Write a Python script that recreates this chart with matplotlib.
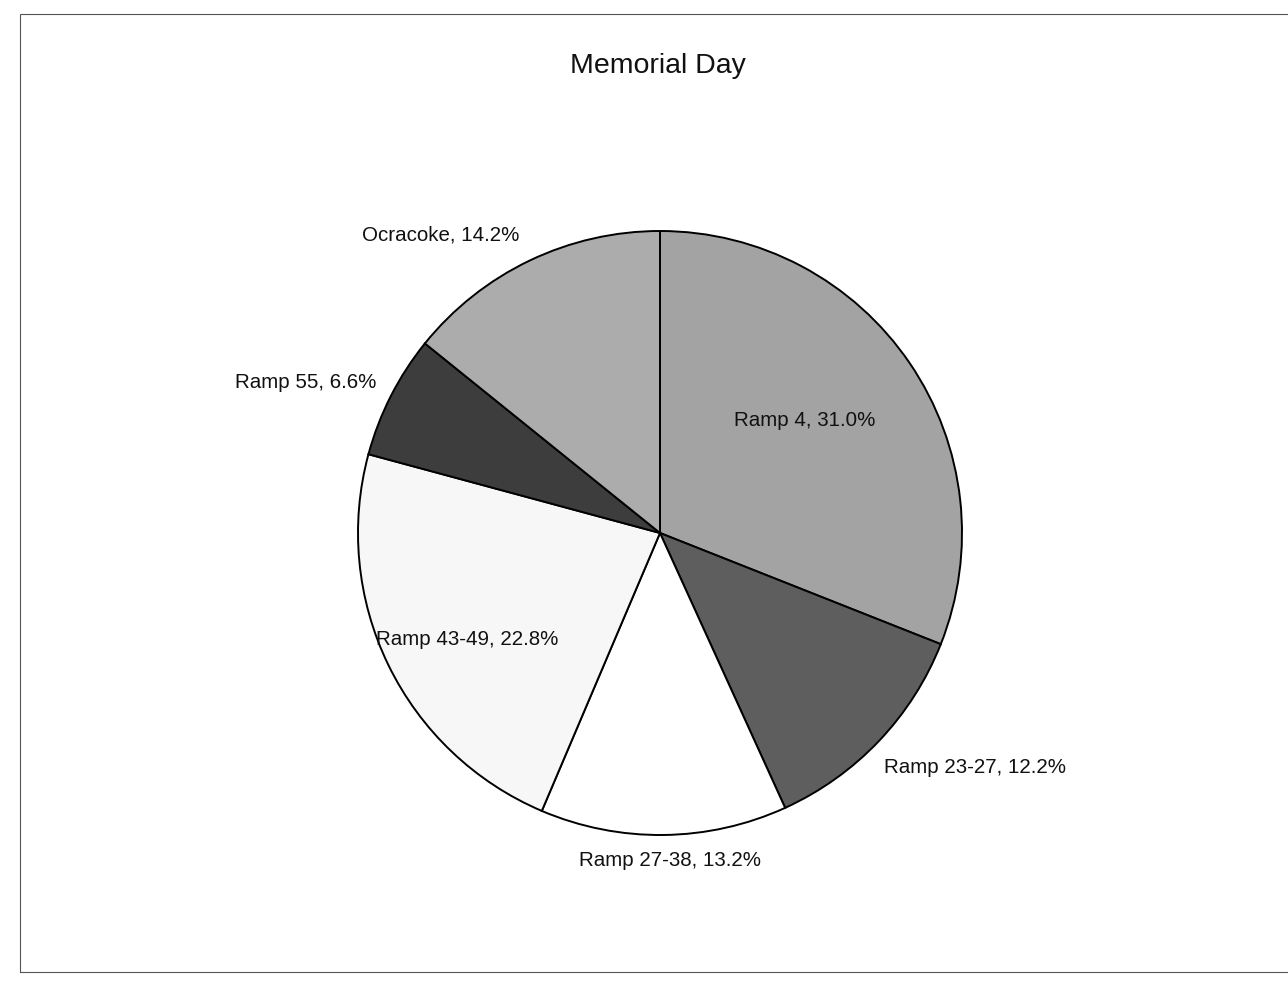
import matplotlib.pyplot as plt
from matplotlib.patches import Rectangle

plt.rcParams['font.family'] = ['Liberation Sans', 'DejaVu Sans']

labels = ['Ramp 4', 'Ramp 23-27', 'Ramp 27-38', 'Ramp 43-49', 'Ramp 55', 'Ocracoke']
shares = [31.0, 12.2, 13.2, 22.8, 6.6, 14.2]
colors = ['#a3a3a3', '#5e5e5e', '#ffffff', '#f7f7f7', '#3d3d3d', '#acacac']

# label spots (data units, pie radius = 1) and alignment
label_xy = [(0.48, 0.374), (0.742, -0.775), (0.033, -1.083),
            (-0.639, -0.354), (-0.94, 0.497), (-0.467, 0.987)]
label_ha = ['center', 'left', 'center', 'center', 'right', 'right']

fig = plt.figure(figsize=(12.88, 9.89), dpi=100)

# pie centre ~ (660, 533) px, radius ~ 302 px
cx, cy, r = 660 / 1288, 1 - 533 / 989, 302
ax = fig.add_axes([cx - r / 1288, cy - r / 989, 2 * r / 1288, 2 * r / 989])
ax.pie(shares, colors=colors, startangle=90, counterclock=False,
       wedgeprops=dict(edgecolor='black', linewidth=1.4))
ax.set_xlim(-1, 1)
ax.set_ylim(-1, 1)
ax.set_aspect('equal')
ax.axis('off')

for name, val, (x, y), ha in zip(labels, shares, label_xy, label_ha):
    ax.text(x, y, f'{name}, {val:.1f}%', ha=ha, va='center', fontsize=14.8,
            color='#111111', clip_on=False)

fig.text(658 / 1288, 1 - 66 / 989, 'Memorial Day', ha='center', va='center',
         fontsize=20.5, color='#111111')

# chart frame
fig.patches.append(Rectangle((20 / 1288, 1 - 972 / 989), 1.0, (972 - 14) / 989,
                             transform=fig.transFigure, fill=False,
                             edgecolor='#555555', linewidth=0.8))

fig.savefig('out.png', dpi=100)
